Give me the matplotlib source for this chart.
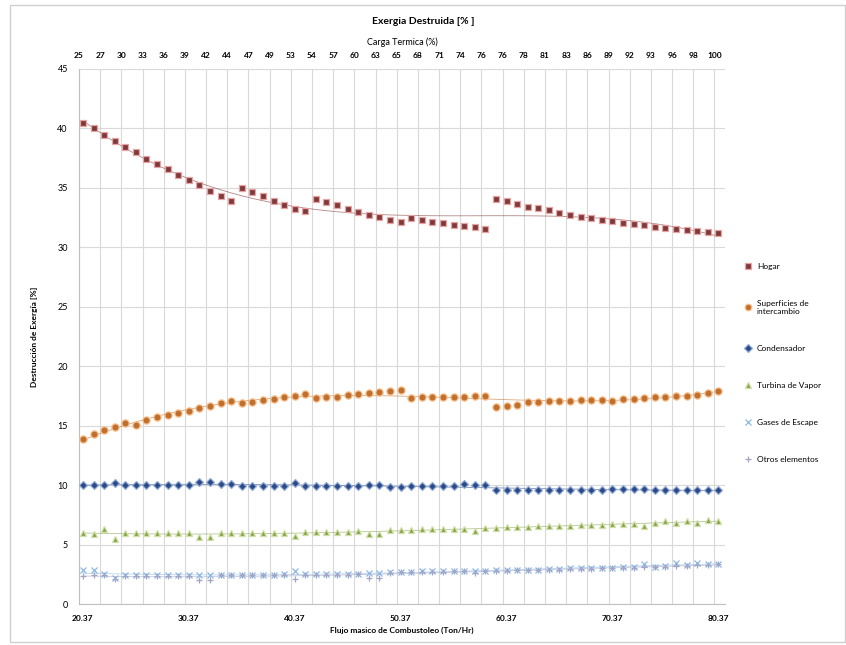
import numpy as np
import matplotlib
matplotlib.use("Agg")
import matplotlib.pyplot as plt
from matplotlib.patches import Rectangle

plt.rcParams['font.family'] = ['Lato', 'DejaVu Sans']

# flujo masico de combustoleo (Ton/Hr), un punto por unidad
flujo = [20.37 + k for k in range(61)]

hogar = [40.43, 40.0, 39.44, 38.97, 38.41, 38.0, 37.45, 37.0, 36.56, 36.08,
         35.66, 35.22, 34.76, 34.3, 33.92, 34.97, 34.65, 34.3, 33.92, 33.58,
         33.25, 33.02, 34.09, 33.78, 33.53, 33.22, 32.97, 32.72, 32.51, 32.27,
         32.1, 32.46, 32.3, 32.15, 32.02, 31.88, 31.76, 31.68, 31.56, 34.06,
         33.89, 33.65, 33.43, 33.27, 33.1, 32.88, 32.74, 32.58, 32.45, 32.34,
         32.2, 32.07, 31.96, 31.88, 31.73, 31.65, 31.54, 31.45, 31.37, 31.29,
         31.18]
superficies = [13.85, 14.27, 14.6, 14.86, 15.2, 15.05, 15.45, 15.7, 15.9, 16.09,
               16.26, 16.46, 16.65, 16.88, 17.1, 16.88, 17.02, 17.16, 17.27, 17.38,
               17.49, 17.63, 17.3, 17.38, 17.44, 17.55, 17.63, 17.72, 17.83, 17.92,
               18.0, 17.35, 17.4, 17.4, 17.43, 17.45, 17.45, 17.5, 17.5, 16.6,
               16.65, 16.7, 16.99, 17.02, 17.05, 17.07, 17.1, 17.16, 17.16, 17.16,
               17.1, 17.21, 17.27, 17.3, 17.38, 17.44, 17.47, 17.52, 17.6, 17.72,
               17.9]
condensador = [10.0, 10.0, 10.0, 10.2, 10.0, 10.0, 10.0, 10.0, 10.0, 10.0,
               10.0, 10.3, 10.3, 10.1, 10.1, 9.96, 9.96, 9.96, 9.96, 9.96,
               10.15, 9.96, 9.9, 9.9, 9.9, 9.9, 9.9, 10.0, 10.0, 9.85,
               9.85, 9.95, 9.95, 9.95, 9.95, 9.95, 10.1, 9.98, 9.98, 9.6,
               9.6, 9.6, 9.6, 9.6, 9.6, 9.6, 9.6, 9.6, 9.6, 9.6,
               9.7, 9.7, 9.65, 9.65, 9.6, 9.6, 9.55, 9.55, 9.55, 9.55,
               9.55]
turbina = [6.0, 5.9, 6.3, 5.45, 5.95, 5.95, 5.95, 5.95, 5.95, 5.95,
           5.95, 5.6, 5.6, 5.95, 6.0, 6.0, 6.0, 6.0, 6.0, 6.0,
           5.7, 6.05, 6.05, 6.05, 6.05, 6.05, 6.1, 5.85, 5.85, 6.2,
           6.2, 6.25, 6.28, 6.3, 6.32, 6.35, 6.35, 6.15, 6.38, 6.4,
           6.45, 6.47, 6.5, 6.52, 6.55, 6.57, 6.6, 6.62, 6.65, 6.67,
           6.7, 6.72, 6.75, 6.6, 6.8, 6.95, 6.8, 7.0, 6.85, 7.05,
           6.95]
gases = [2.85, 2.9, 2.5, 2.2, 2.45, 2.45, 2.45, 2.4, 2.4, 2.4,
         2.4, 2.45, 2.45, 2.45, 2.45, 2.45, 2.45, 2.45, 2.45, 2.5,
         2.75, 2.5, 2.5, 2.5, 2.5, 2.5, 2.5, 2.6, 2.6, 2.65,
         2.7, 2.7, 2.75, 2.75, 2.75, 2.8, 2.8, 2.8, 2.8, 2.85,
         2.85, 2.9, 2.9, 2.9, 2.95, 2.95, 3.0, 3.0, 3.0, 3.05,
         3.05, 3.1, 3.1, 3.4, 3.15, 3.2, 3.45, 3.25, 3.45, 3.35,
         3.4]
otros = [2.35, 2.4, 2.4, 2.1, 2.35, 2.35, 2.35, 2.35, 2.35, 2.35,
         2.35, 2.0, 2.0, 2.4, 2.4, 2.4, 2.4, 2.4, 2.4, 2.45,
         2.1, 2.45, 2.45, 2.45, 2.45, 2.45, 2.5, 2.2, 2.2, 2.6,
         2.65, 2.65, 2.7, 2.7, 2.7, 2.75, 2.75, 2.6, 2.8, 2.8,
         2.8, 2.85, 2.85, 2.85, 2.9, 2.9, 2.95, 2.95, 2.95, 3.0,
         3.0, 3.05, 3.05, 3.1, 3.1, 3.15, 3.2, 3.2, 3.25, 3.3,
         3.35]

# eje superior: carga termica (%)
carga_pos = [20 + 2 * k for k in range(31)]
carga = ['25', '27', '30', '33', '36', '39', '42', '44', '47', '49', '53', '54',
         '57', '60', '63', '65', '68', '71', '74', '76', '76', '78', '81', '83',
         '86', '89', '92', '93', '96', '98', '100']

series = [
    ('Hogar', hogar, 's', '#7e3a3a', '#e8a3a3', 4.6),
    ('Superficies de\nintercambio', superficies, 'o', '#c0702e', '#f9bf8c', 5.2),
    ('Condensador', condensador, 'D', '#2b4a86', '#93acd8', 4.3),
    ('Turbina de Vapor', turbina, '^', '#86a24a', '#cfe0a6', 4.8),
    ('Gases de Escape', gases, 'x', '#8cb8e4', '#8cb8e4', 4.3),
    ('Otros elementos', otros, '+', '#a3a3c2', '#a3a3c2', 4.8),
]

fig = plt.figure(figsize=(8.46, 6.45), dpi=100)
ax = fig.add_axes([79 / 846, 1 - 604 / 645, (725 - 79) / 846, (604 - 69) / 645])

x = np.array(flujo)
for nombre, vals, mk, fc, ec, ms in series:
    ax.plot(x, vals, linestyle='none', marker=mk, markersize=ms,
            markerfacecolor=fc, markeredgecolor=ec, markeredgewidth=0.9,
            label=nombre, clip_on=False, zorder=3)
    # linea de tendencia polinomica
    c = np.polyfit(x, vals, 3)
    ax.plot(x, np.polyval(c, x), color=fc, linewidth=0.6, alpha=0.6, zorder=2)

ax.set_xlim(20, 81)
ax.set_ylim(0, 45)
ax.set_yticks(range(0, 46, 5))
ax.set_xticks([20.37 + 10 * k for k in range(7)])
ax.set_xticklabels(['%.2f' % (20.37 + 10 * k) for k in range(7)],
                   fontsize=6, fontweight='bold')
ax.set_xticks(carga_pos, minor=True)
ax.tick_params(axis='y', labelsize=6.5, length=0, pad=8)
ax.tick_params(axis='x', which='both', length=0, pad=8)
ax.grid(axis='y', color='#d9d9d9', linewidth=0.8)
ax.grid(axis='x', which='minor', color='#d9d9d9', linewidth=0.8)
ax.set_axisbelow(True)
for s in ['top', 'right']:
    ax.spines[s].set_visible(False)
for s in ['left', 'bottom']:
    ax.spines[s].set_color('#bfbfbf')

ax.set_xlabel('Flujo masico de Combustoleo (Ton/Hr)', fontsize=6,
              fontweight='bold', labelpad=3)
ax.set_ylabel('Destrucción de Exergía [%]', fontsize=6, fontweight='bold',
              labelpad=14)

top = ax.secondary_xaxis('top')
top.set_xticks(carga_pos)
top.set_xticklabels(carga, fontsize=6, fontweight='bold')
top.tick_params(length=0, pad=7)
top.spines['top'].set_visible(False)
top.set_xlabel('Carga Termica (%)', fontsize=6.5, labelpad=5)

fig.text(0.5, 1 - 22 / 645, 'Exergia Destruida [% ]', ha='center', va='center',
         fontsize=7.5, fontweight='bold')

fig.legend(loc='upper left', bbox_to_anchor=(736 / 846, 1 - 255 / 645),
           frameon=False, fontsize=6, labelspacing=3.6, handletextpad=0.6,
           handlelength=1.0, markerscale=0.9)

fig.add_artist(Rectangle((10 / 846, 3 / 645), 835 / 846, 637 / 645,
                         transform=fig.transFigure, fill=False,
                         edgecolor='#d0d0d0', linewidth=1))

fig.savefig('out.png', dpi=100)
